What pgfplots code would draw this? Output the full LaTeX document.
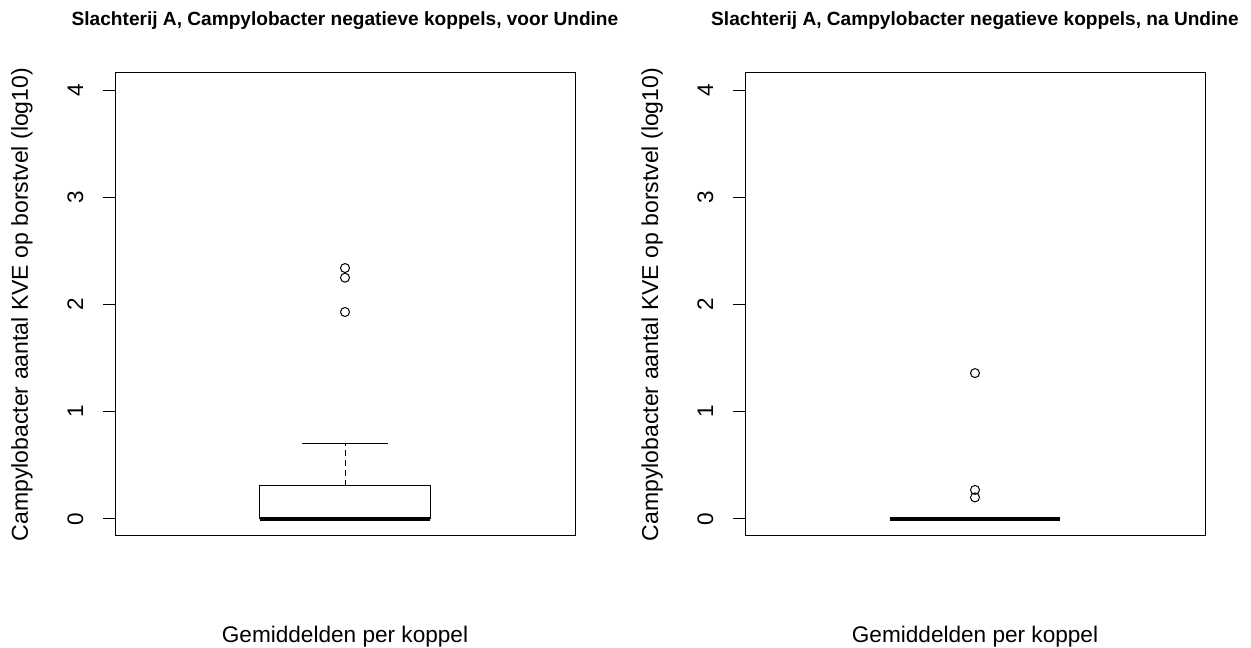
\documentclass[border=0pt]{standalone}
\usepackage{fontspec}
\setmainfont{Liberation Sans}
\usepackage{pgfplots}
\pgfplotsset{compat=1.18}
\usepgfplotslibrary{statistics}

\pgfplotsset{
  /pgfplots/boxplot/draw/whisker/.code 2 args={
    \draw[dash pattern=on 6pt off 4pt, line width=1pt]
      (boxplot box cs:#1,0.5) --
      (boxplot box cs:#2,0.5);
    \draw[line width=1pt]
      (boxplot whisker cs:#2,0) --
      (boxplot whisker cs:#2,1);
  },
  rbox/.style={
    width=460pt, height=463pt, scale only axis,
    anchor=south west,
    xmin=0.46, xmax=1.54, ymin=-0.16, ymax=4.16,
    xtick=\empty, ytick={0,1,2,3,4},
    ytick pos=left, tick align=outside, major tick length=12pt,
    tick style={black, line width=1pt},
    axis line style={black, line width=1pt},
    /pgf/number format/assume math mode=true,
    yticklabel style={xshift=-20pt, rotate=90, anchor=base, inner sep=0pt,
      font=\fontsize{22.5}{22.5}\selectfont},
    every axis y label/.style={at={(rel axis cs:0,0.5)}, xshift=-87pt,
      rotate=90, anchor=base, inner sep=0pt,
      font=\fontsize{23}{23}\selectfont},
    every axis x label/.style={at={(rel axis cs:0.5,0)}, anchor=base,
      yshift=-106pt, inner sep=0pt, font=\fontsize{22.6}{22.6}\selectfont},
    every axis title/.style={at={(rel axis cs:0.5,1)}, anchor=base,
      yshift=47pt, inner sep=0pt, font=\fontsize{19.1}{19.1}\selectfont\bfseries},
    ylabel={Campylobacter aantal KVE op borstvel (log10)},
    xlabel={Gemiddelden per koppel},
    boxplot/draw direction=y,
    boxplot/box extend=0.4,
    boxplot/whisker extend=0.2,
    boxplot/every box/.style={line width=1pt},
    boxplot/every median/.style={line width=3.8pt},
  },
  rbp/.style={black, solid, mark=o, mark size=4.5pt,
    mark options={line width=1pt, fill=none}},
}

\begin{document}
\begin{tikzpicture}
\useasboundingbox (0,0) rectangle (1251pt,648pt);
\begin{axis}[rbox, at={(115pt,112pt)},
  title={Slachterij A, Campylobacter negatieve koppels, voor Undine}]
\addplot+[rbp, boxplot prepared={draw position=1, median=0,
  lower quartile=0, upper quartile=0.31, lower whisker=0, upper whisker=0.70}]
  coordinates {(0,2.34) (0,2.25) (0,1.93)};
\end{axis}
\begin{axis}[rbox, at={(745pt,112pt)},
  title={Slachterij A, Campylobacter negatieve koppels, na Undine}]
\addplot+[rbp, boxplot prepared={draw position=1, median=0,
  lower quartile=0, upper quartile=0, lower whisker=0, upper whisker=0}]
  coordinates {(0,1.36) (0,0.27) (0,0.20)};
\end{axis}
\end{tikzpicture}
\end{document}
